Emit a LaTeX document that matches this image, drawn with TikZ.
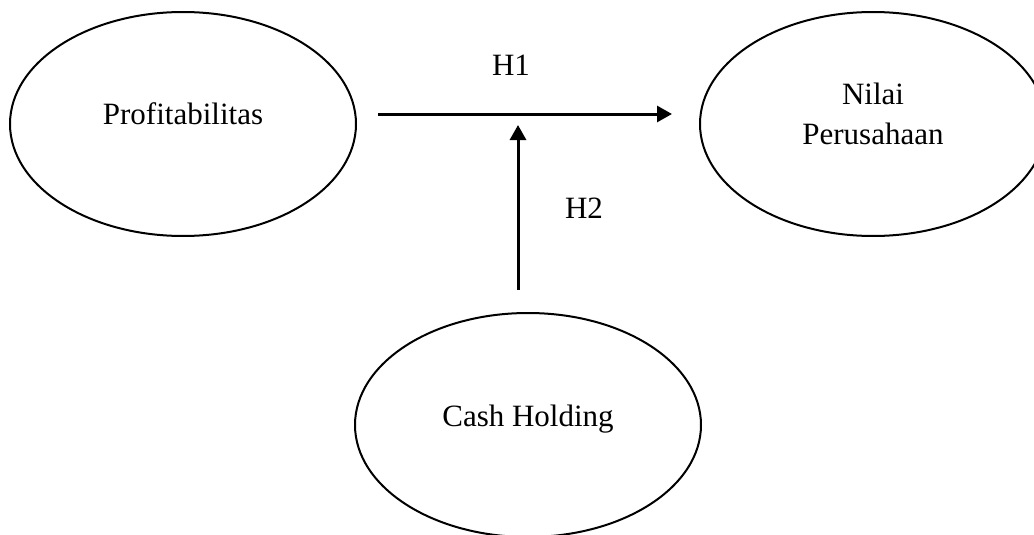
\documentclass[tikz,border=0pt]{standalone}
\usepackage{fontspec}
\setmainfont{Liberation Serif}
\usetikzlibrary{arrows.meta, shapes.geometric}

\begin{document}
\begin{tikzpicture}[x=1pt,y=1pt,
    var/.style={draw,ellipse,line width=2pt,minimum width=346pt,
      minimum height=224pt,inner sep=0pt},
    txt/.style={font=\fontsize{31}{40}\selectfont,align=center,yshift=10pt},
    arj/.style={line width=3pt,-{Triangle[length=15pt,width=16pt]}},
    lbl/.style={font=\fontsize{31}{40}\selectfont}]
  \useasboundingbox (0,0) rectangle (1034,-535);
  \node(profit)[var,label={[txt]center:Profitabilitas}] at (183,-124) {};
  \node(nilai)[var,label={[txt]center:Nilai\\Perusahaan}] at (873,-124) {};
  \node(cash)[var,label={[txt,yshift=-4pt]center:Cash Holding}] at (528,-425) {};
  \coordinate (h1start) at (378,-114);
  \coordinate (h1end) at (672,-114);
  \coordinate (h2start) at (518,-290);
  \coordinate (h2end) at (518,-125);
  \draw[arj] (h1start) -- (h1end);
  \draw[arj] (h2start) -- (h2end);
  \node(h1)[lbl] at (511,-65) {H1};
  \node(h2)[lbl] at (584,-208) {H2};
\end{tikzpicture}
\end{document}
